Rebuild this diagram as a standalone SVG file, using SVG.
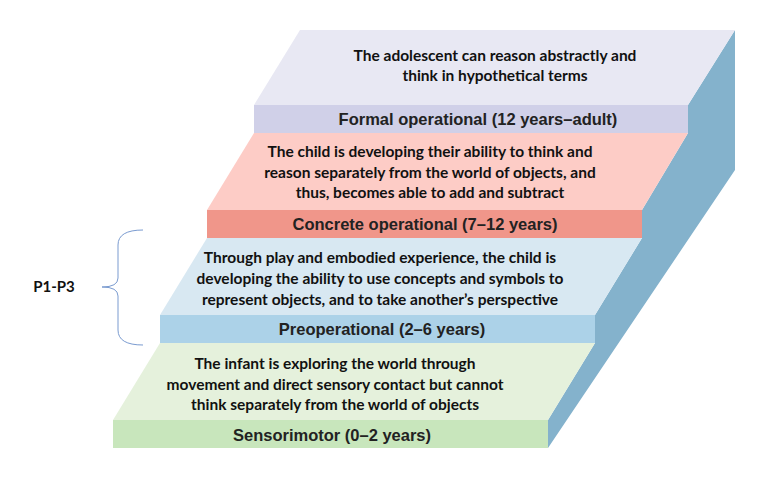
<svg xmlns="http://www.w3.org/2000/svg" width="766" height="480" viewBox="0 0 766 480">
<style>
.t{font-family:"Liberation Sans",Arial,sans-serif;font-weight:bold;font-size:16.5px;fill:#222;text-anchor:middle}
.d{font-family:Lato,"Open Sans",sans-serif;font-weight:bold;font-size:15.5px;fill:#111;text-anchor:middle}
</style>
<rect width="766" height="480" fill="#fff"/>
<polygon points="735,30 688,105 688,133 642,210 642,238 595,315 595,343 548,420 548,448 735,170" fill="#84b2cc"/>
<g id="formal">
<polygon points="300,30 735,30 688,105 254,105" fill="#e8e8f3"/>
<rect x="254" y="105" width="434" height="28" fill="#d0d0e8"/>
<text class="d" x="495" y="61">The adolescent can reason abstractly and</text>
<text class="d" x="495" y="81">think in hypothetical terms</text>
<text class="t" x="478" y="125">Formal operational (12 years–adult)</text>
</g>
<g id="concrete">
<polygon points="254,133 688,133 642,210 207,210" fill="#fdccc6"/>
<rect x="207" y="210" width="435" height="28" fill="#f0968a"/>
<text class="d" x="430" y="157">The child is developing their ability to think and</text>
<text class="d" x="430" y="178">reason separately from the world of objects, and</text>
<text class="d" x="430" y="198">thus, becomes able to add and subtract</text>
<text class="t" x="425" y="230">Concrete operational (7–12 years)</text>
</g>
<g id="preop">
<polygon points="207,238 642,238 595,315 160,315" fill="#d8e8f2"/>
<rect x="160" y="315" width="435" height="28" fill="#acd2e8"/>
<text class="d" x="380" y="263">Through play and embodied experience, the child is</text>
<text class="d" x="380" y="284">developing the ability to use concepts and symbols to</text>
<text class="d" x="380" y="305">represent objects, and to take another’s perspective</text>
<text class="t" x="382" y="335">Preoperational (2–6 years)</text>
</g>
<g id="sensori">
<polygon points="160,343 595,343 548,420 113,420" fill="#e5f1dc"/>
<rect x="113" y="420" width="435" height="28" fill="#c8e6bc"/>
<text class="d" x="335" y="369">The infant is exploring the world through</text>
<text class="d" x="335" y="390">movement and direct sensory contact but cannot</text>
<text class="d" x="335" y="410">think separately from the world of objects</text>
<text class="t" x="332" y="441">Sensorimotor (0–2 years)</text>
</g>
<g id="brace">
<path d="M143,230 Q118,230 118,245 L118,278 Q118,287 102,287 Q118,287 118,296 L118,330 Q118,345 143,345" fill="none" stroke="#7a9bd0" stroke-width="1"/>
<text x="54" y="292" style="font-family:Lato,'Open Sans',sans-serif;font-weight:bold;font-size:15px;fill:#111;text-anchor:middle">P1-P3</text>
</g>
</svg>
